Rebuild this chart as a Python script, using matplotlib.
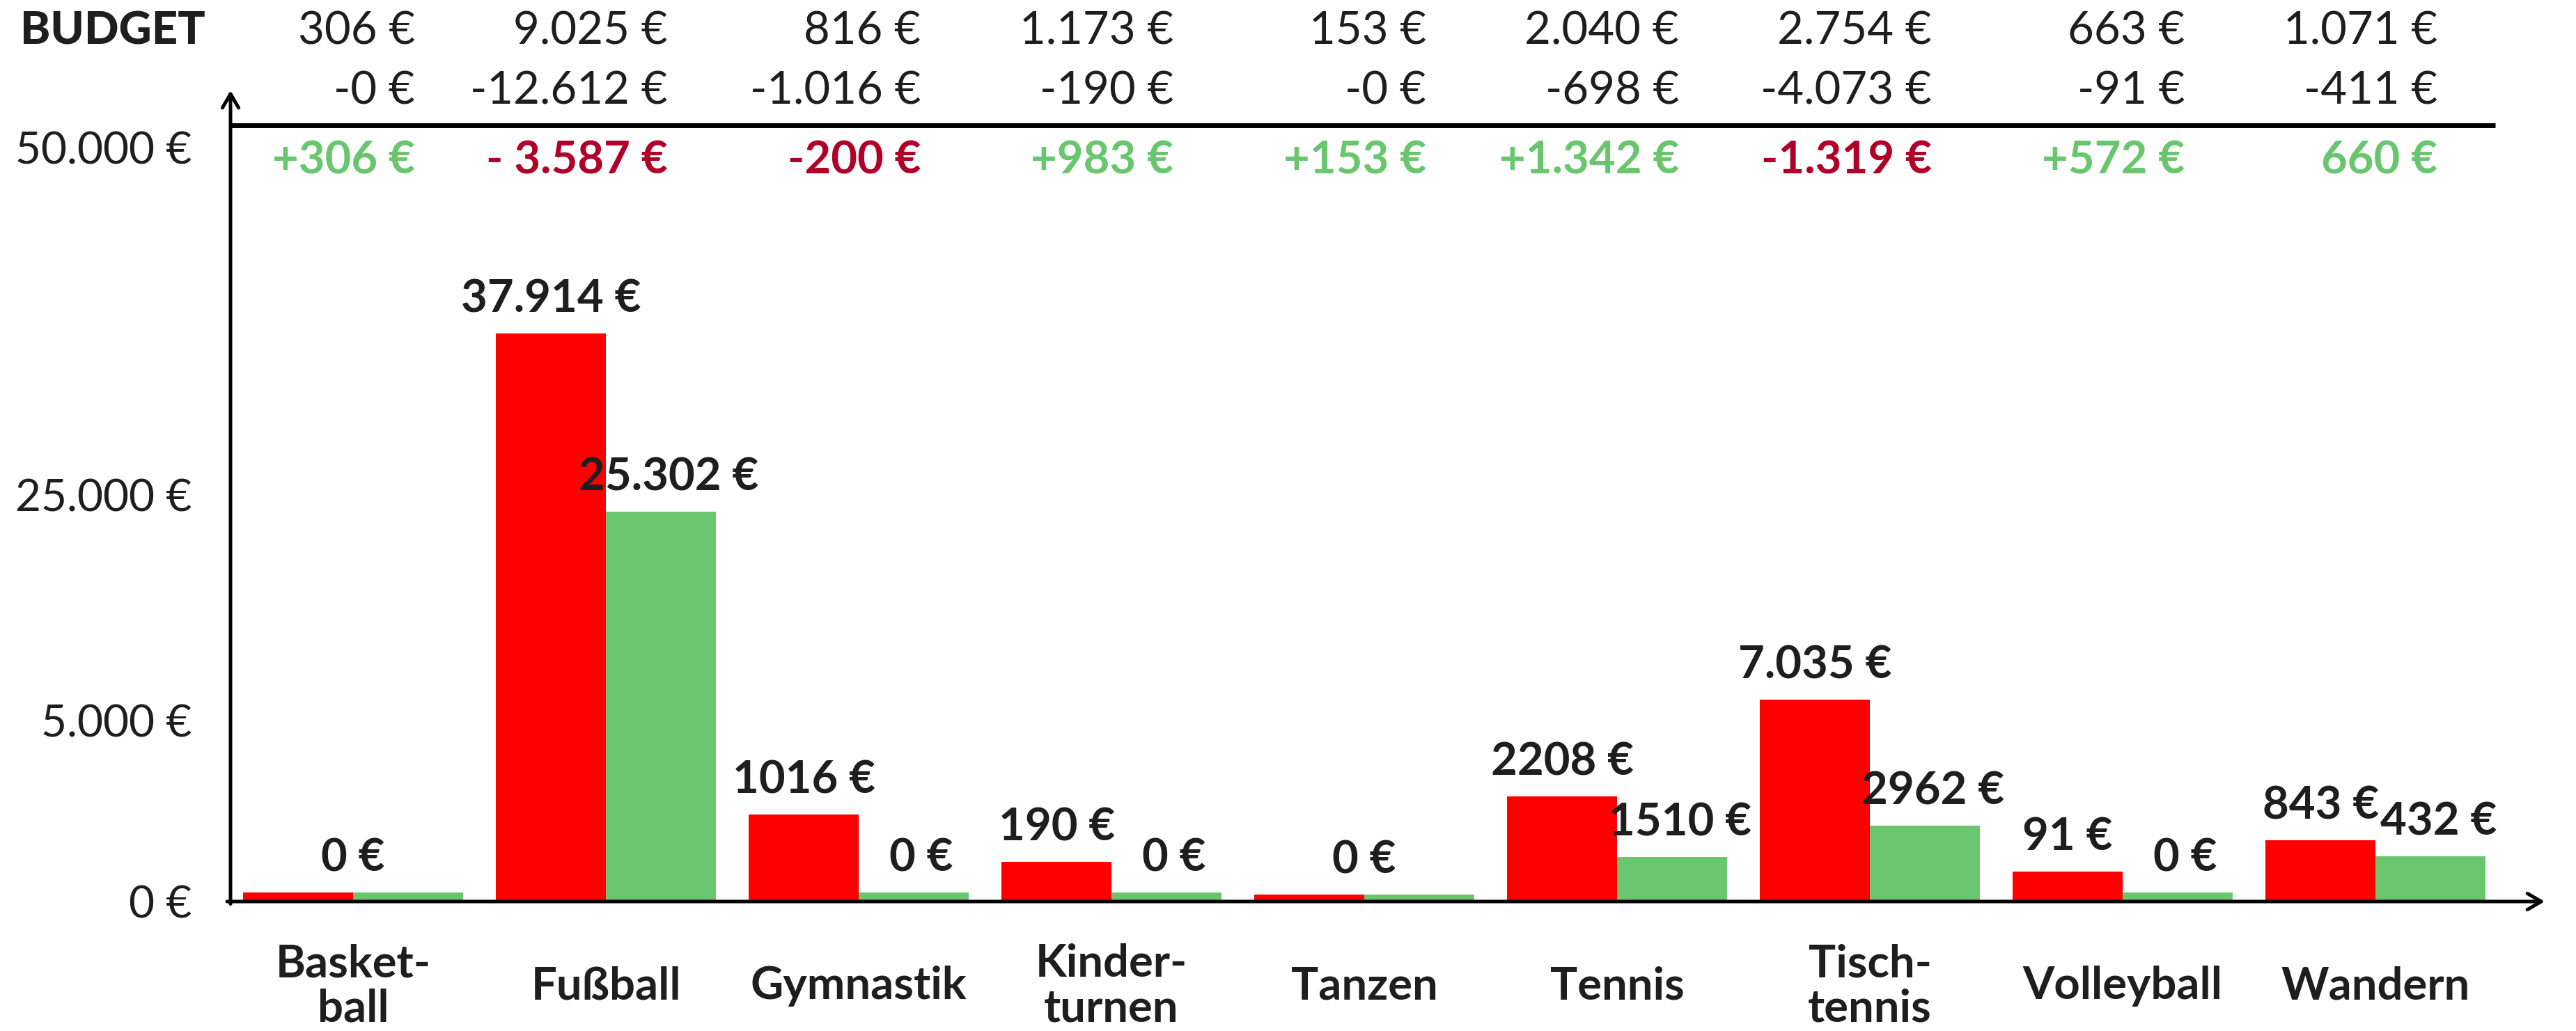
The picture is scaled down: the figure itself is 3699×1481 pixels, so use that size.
import numpy as np
import matplotlib
matplotlib.use("Agg")
import matplotlib.pyplot as plt
import matplotlib.transforms as mtransforms

plt.rcParams['font.family'] = ['Lato', 'DejaVu Sans']

# ---------------- data ----------------
kategorien = ["Basket-\nball", "Fußball", "Gymnastik", "Kinder-\nturnen", "Tanzen",
              "Tennis", "Tisch-\ntennis", "Volleyball", "Wandern"]

budget = [306, 9025, 816, 1173, 153, 2040, 2754, 663, 1071]
ausgaben = [0, 12612, 1016, 190, 0, 698, 4073, 91, 411]
differenz_text = ["+306 €", "- 3.587 €", "-200 €", "+983 €", "+153 €",
                  "+1.342 €", "-1.319 €", "+572 €", "660 €"]
differenz_positiv = [True, False, False, True, True, True, False, True, True]

# bar heights as read off the (non-linear) y axis of the picture
rot_hoehe = [250, 36600, 2400, 1100, 190, 2900, 6850, 830, 1700]
gruen_hoehe = [250, 23500, 250, 250, 190, 1230, 2100, 250, 1250]

# value labels printed above the bars
label_rot = ["", "37.914 €", "1016 €", "190 €", "", "2208 €", "7.035 €", "91 €", "843 €"]
label_gruen = ["", "25.302 €", "0 €", "0 €", "", "1510 €", "2962 €", "0 €", "432 €"]
label_paar = ["0 €", "", "", "", "0 €", "", "", "", ""]

y_ticks = [0, 5000, 25000, 50000]

# ---------------- styles ----------------
ROT = "#FF0000"
GRUEN = "#6AC66E"
DUNKELROT = "#B00028"
TEXT = "#1E1E1E"
FS = 47

def euro(v):
    return f"{v:,}".replace(",", ".") + " €"

# piecewise-linear y axis (ticks not evenly spaced in the reference)
Y_KNOTS = np.array([-50000, 0, 5000, 25000, 50000, 150000], dtype=float)
P_KNOTS = np.array([-2600, 0, 260, 584, 1083, 3079], dtype=float)

def fwd(y):
    return np.interp(y, Y_KNOTS, P_KNOTS)

def inv(p):
    return np.interp(p, P_KNOTS, Y_KNOTS)

W, H = 3699, 1481
fig = plt.figure(figsize=(W / 100, H / 100), dpi=100)
ax = fig.add_axes([331 / W, 1 - 1295 / H, (3654 - 331) / W, 1165 / H])
ax.set_yscale('function', functions=(fwd, inv))
ax.set_ylim(0, inv(1165))

n = len(kategorien)
x = np.arange(n)
bw = 0.435
ax.set_xlim(-0.485, 8.669)

ax.bar(x - bw / 2, rot_hoehe, width=bw, color=ROT, zorder=2)
ax.bar(x + bw / 2, gruen_hoehe, width=bw, color=GRUEN, zorder=2)

for s in ax.spines.values():
    s.set_visible(False)
ax.set_xticks([])
ax.set_yticks(y_ticks)
ax.set_yticklabels([euro(v) for v in y_ticks])
ax.yaxis.set_minor_locator(matplotlib.ticker.NullLocator())
ax.tick_params(axis='y', length=0, pad=40, labelsize=FS - 1, labelcolor=TEXT)

# axes with arrows
arrow = dict(arrowstyle='->,head_length=0.65,head_width=0.38', lw=3.6,
             color='black', shrinkA=0, shrinkB=0, mutation_scale=22)
ax.annotate('', xy=(0, 1), xytext=(0, -0.003), xycoords='axes fraction',
            arrowprops=arrow, annotation_clip=False, zorder=5)
ax.annotate('', xy=(1, 0), xytext=(-0.0015, 0), xycoords='axes fraction',
            arrowprops=arrow, annotation_clip=False, zorder=5)
# separator line of the budget table
ax.plot([0, 0.9786], [0.957, 0.957], transform=ax.transAxes, color='black',
        lw=5, clip_on=False, solid_capstyle='butt', zorder=5)

# bar value labels
for i in range(n):
    if label_rot[i]:
        ax.annotate(label_rot[i], (x[i] - bw / 2, rot_hoehe[i]), xytext=(0, 22),
                    textcoords='offset points', ha='center', va='baseline',
                    fontsize=FS, fontweight='bold', color=TEXT)
    if label_gruen[i]:
        ax.annotate(label_gruen[i], (x[i] + bw / 2, gruen_hoehe[i]), xytext=(8, 22),
                    textcoords='offset points', ha='center', va='baseline',
                    fontsize=FS, fontweight='bold', color=TEXT)
    if label_paar[i]:
        ax.annotate(label_paar[i], (x[i], max(rot_hoehe[i], gruen_hoehe[i])),
                    xytext=(0, 22), textcoords='offset points', ha='center',
                    va='baseline', fontsize=FS, fontweight='bold', color=TEXT)

# budget table
trans = mtransforms.blended_transform_factory(ax.transData, fig.transFigure)
col_off = 0.245
fig.text(29 / W, 1 - 64 / H, "BUDGET", ha='left', va='baseline', fontsize=FS,
         fontweight='black', color=TEXT)
for i in range(n):
    xr = x[i] + col_off
    ax.text(xr, 1 - 64 / H, euro(budget[i]), transform=trans, ha='right',
            va='baseline', fontsize=FS, color=TEXT, clip_on=False)
    ax.text(xr, 1 - 150 / H, "-" + euro(ausgaben[i]), transform=trans, ha='right',
            va='baseline', fontsize=FS, color=TEXT, clip_on=False)
    ax.text(xr, 1 - 250 / H, differenz_text[i], transform=trans, ha='right',
            va='baseline', fontsize=FS, fontweight='bold',
            color=GRUEN if differenz_positiv[i] else DUNKELROT, clip_on=False)
    # category labels
    ax.text(x[i], 1 - 1417 / H, kategorien[i], transform=trans, ha='center',
            va='center', multialignment='center', linespacing=1.12,
            fontsize=FS, fontweight='bold', color=TEXT, clip_on=False)

fig.savefig("out.png", dpi=100, facecolor='white')
